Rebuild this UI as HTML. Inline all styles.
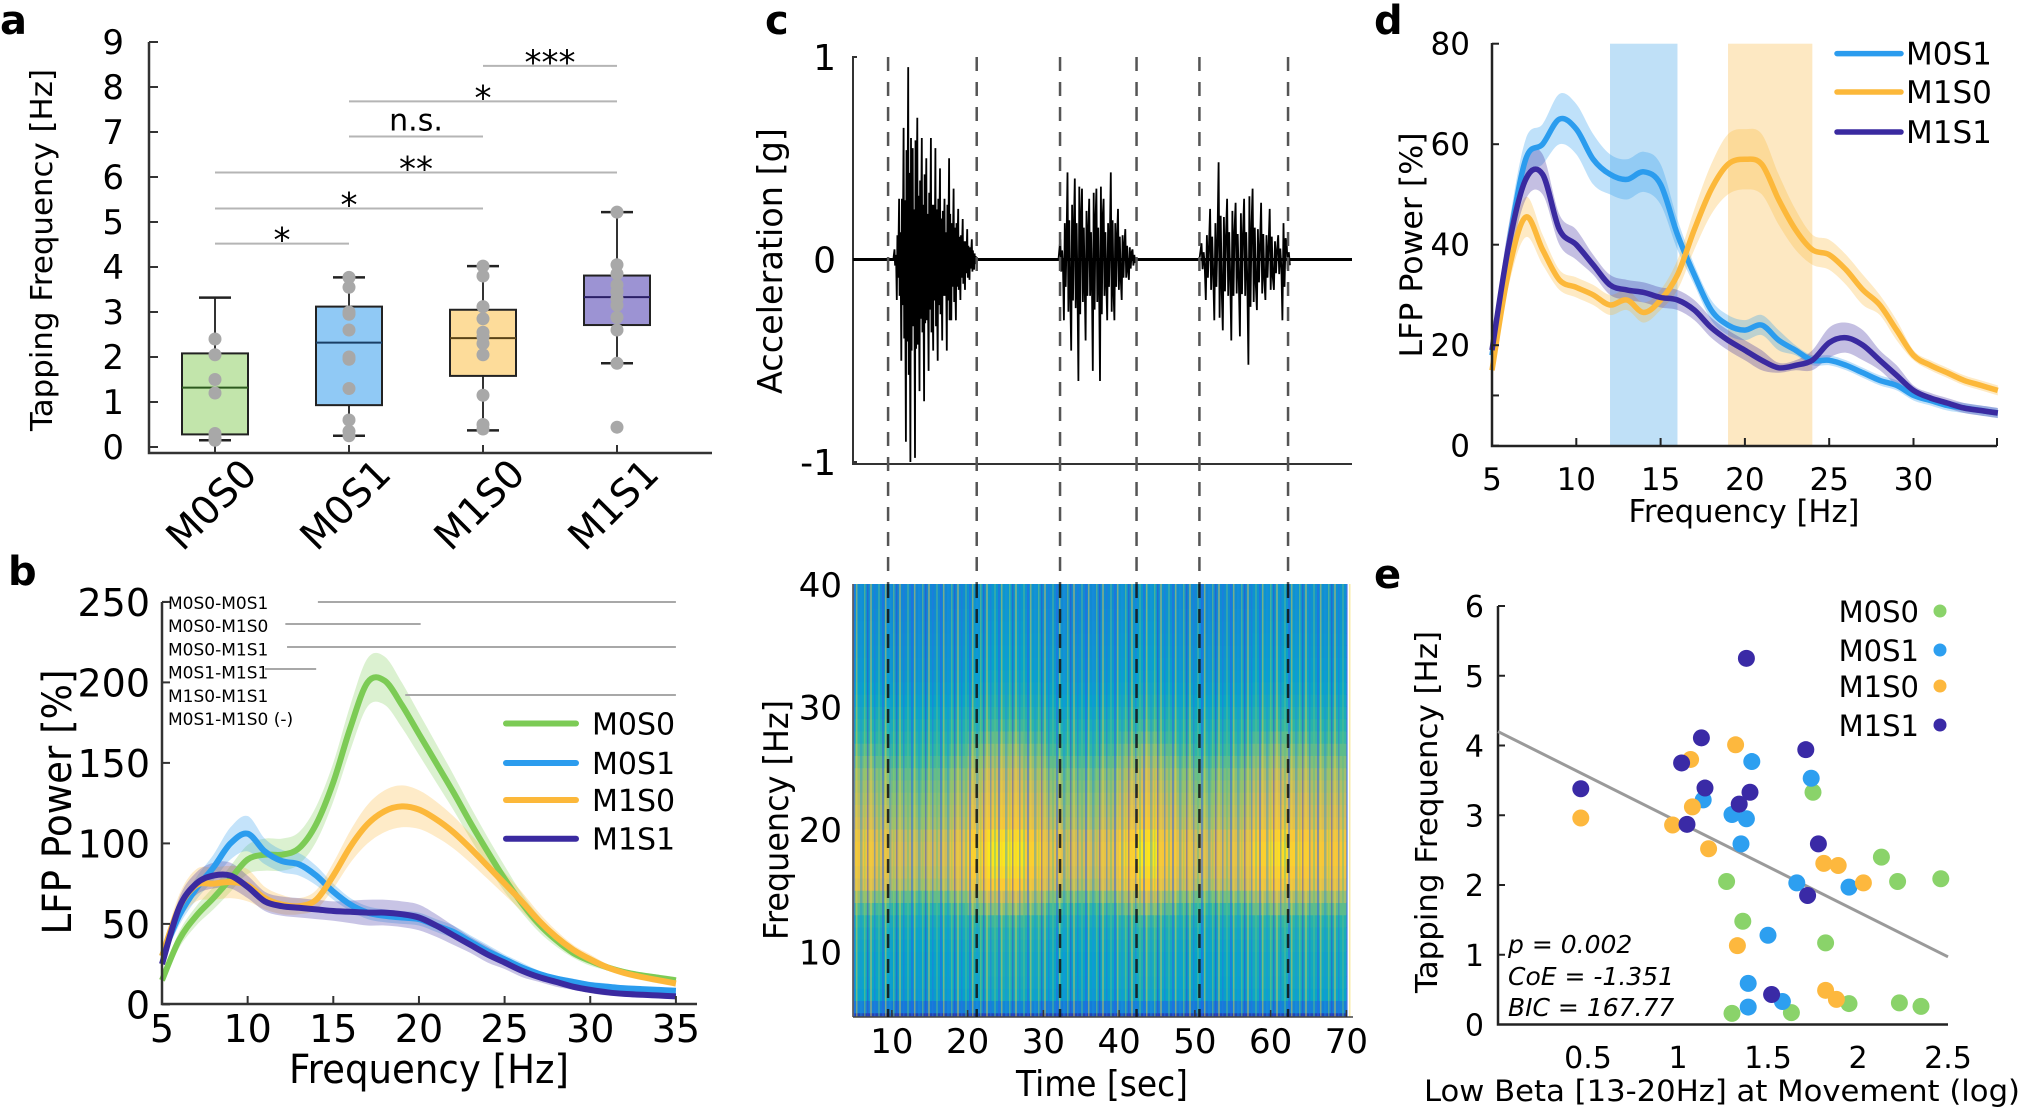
<!DOCTYPE html>
<html><head><meta charset="utf-8"><title>Figure</title>
<style>
html,body{margin:0;padding:0;background:#fff;}
svg{display:block;font-family:"DejaVu Sans","Liberation Sans",sans-serif;}
</style></head>
<body>
<svg id="fig" xmlns="http://www.w3.org/2000/svg" width="2021" height="1108" viewBox="0 0 2021 1108">
<defs>
<clipPath id="specClip"><rect x="853" y="584" width="500" height="433"/></clipPath>
<pattern id="stripes" x="853" y="0" width="29" height="10" patternUnits="userSpaceOnUse">
<rect x="0" y="0" width="2" height="10" fill="#2b5fe8" opacity="0.5"/>
<rect x="3" y="0" width="1.5" height="10" fill="#f2d33a" opacity="0.45"/>
<rect x="7" y="0" width="2.5" height="10" fill="#1c8fe0" opacity="0.4"/>
<rect x="11" y="0" width="1.5" height="10" fill="#8fd060" opacity="0.45"/>
<rect x="14" y="0" width="1.5" height="10" fill="#3a3fd0" opacity="0.45"/>
<rect x="17" y="0" width="2" height="10" fill="#f0d040" opacity="0.4"/>
<rect x="21" y="0" width="1.5" height="10" fill="#2a70e8" opacity="0.45"/>
<rect x="25" y="0" width="2" height="10" fill="#5cc08a" opacity="0.45"/>
</pattern>
</defs>
</svg>
<script>
// ---------- DATA ----------
// Panel a
const catsA = ['M0S0','M0S1','M1S0','M1S1'];
const boxLo = [0.28,0.93,1.58,2.71];
const boxHi = [2.08,3.12,3.05,3.81];
const boxMed = [1.32,2.32,2.42,3.33];
const whiskLo = [0.15,0.25,0.37,1.86];
const whiskHi = [3.32,3.77,4.02,5.22];
const ptsM0S0 = [2.4,2.05,1.5,1.2,0.3,0.2,0.15];
const ptsM0S1 = [3.77,3.55,3.0,2.95,2.6,2.0,1.95,1.3,0.6,0.35,0.25];
const ptsM1S0 = [4.02,3.8,3.12,2.85,2.55,2.45,2.3,2.05,1.15,0.5,0.4];
const ptsM1S1 = [5.22,4.05,3.85,3.6,3.45,3.3,3.15,2.88,2.6,1.86,0.44];
const sigFrom = [0,0,0,1,1,2];
const sigTo = [1,2,3,2,3,3];
const sigLevel = [4.52,5.3,6.1,6.9,7.68,8.47];
const sigText = ['*','*','**','n.s.','*','***'];
const ticksA = [0,1,2,3,4,5,6,7,8,9];

// Panel b
const freqB = [5,6,7,8,9,10,11,12,13,14,15,16,17,18,19,20,21,22,23,24,25,26,27,28,29,30,31,32,33,34,35];
const bM0S0 = [15,40,55,66,78,90,93,93,97,112,138,172,200,201,186,168,150,132,113,95,78,63,50,40,32,27,23,20,18,16.5,15];
const eM0S0 = [3,5,6,7,8,9,10,10,10,11,12,14,15,15,14,13,12,11,10,9,8,6,5,4,3,3,2,2,2,2,2];
const bM0S1 = [30,55,72,85,100,106,95,89,87,80,70,62,57,55,54,53,49,45,39,33,28,23,19,16,14,12,11,10,9.5,9,8.5];
const eM0S1 = [4,6,7,8,10,11,8,7,7,6,5,4,4,4,4,4,4,4,4,4,3,3,2,2,2,2,2,1,1,1,1];
const bM1S0 = [30,60,74,75,76,74,66,62,61,65,80,98,112,120,123,121,115,107,97,86,75,64,52,42,34,28,23,19.5,17,15,13];
const eM1S0 = [4,8,10,10,10,10,7,6,5,6,8,10,12,13,13,12,11,10,9,8,7,6,5,4,3,3,2,2,2,2,2];
const bM1S1 = [25,60,75,80,80,73,64,61,60,59,58,57.5,57,57,56,54,49,43,37,31,26,21,17,14,11,9,7.5,6.5,6,5.5,5];
const eM1S1 = [3,6,7,8,8,7,6,6,6,6,6,7,8,8,8,8,7,6,5,5,4,4,3,3,2,2,2,1,1,1,1];
const ticksBY = [0,50,100,150,200,250];
const ticksBX = [5,10,15,20,25,30,35];
const sigLabelsB = ['M0S0-M0S1','M0S0-M1S0','M0S0-M1S1','M0S1-M1S1','M1S0-M1S1','M0S1-M1S0 (-)'];
const sigStartB = [14.1,12.2,12.3,11.0,19.2];
const sigEndB = [35,20.1,35,14.0,35];

// Panel c
const accelB1 = [0.05,-0.2,0.3,-0.5,0.65,-0.9,0.95,-1.0,0.55,-0.98,0.7,-0.65,0.6,-0.7,0.5,-0.55,0.6,-0.45,0.55,-0.5,0.45,-0.4,0.3,-0.45,0.5,-0.3,0.35,-0.3,0.25,-0.2,0.2,-0.15,0.15,-0.1,0.1,-0.05];
const accelB2 = [0.1,-0.3,0.43,-0.45,0.4,-0.6,0.35,-0.4,0.3,-0.55,0.35,-0.6,0.3,-0.3,0.43,-0.3,0.25,-0.2,0.15,-0.1,0.05];
const accelB3 = [0.08,-0.2,0.25,-0.3,0.48,-0.35,0.3,-0.4,0.28,-0.38,0.3,-0.52,0.35,-0.25,0.28,-0.2,0.25,-0.15,0.12,-0.3,0.08];
const burstStart = [10.2,32.0,50.6];
const burstEnd = [21.0,42.0,62.4];
const eventTimes = [9.5,21.2,32.2,42.3,50.6,62.3];
const specFreqLevel = [0.08,0.3,0.45,0.47,0.48,0.48,0.5,0.52,0.56,0.64,0.72,0.82,0.85,0.87,0.87,0.85,0.8,0.78,0.76,0.74,0.72,0.68,0.64,0.6,0.56,0.52,0.48,0.45,0.43,0.41,0.4,0.39,0.38,0.37,0.36,0.36];
const specTimeLevel = [1.0,0.97,0.92,0.9,0.92,0.97,1.05,1.1,1.1,1.05,0.97,0.93,0.93,0.97,1.05,1.1,1.02,0.97,0.93,0.95,0.97,1.05,1.08,1.05,1.02,1.02];
const ticksCX = [10,20,30,40,50,60,70];
const ticksCF = [10,20,30,40];

// Panel d
const dM0S1 = [18,40,57,60,65,63,57,54,53,54.5,52,42,34,27,24,23,24,21,19,17,17,16,14.5,13,12,10,9,8,7.5,7,6.5];
const edM0S1 = [2,4,4,4,5,5,5,4,4,4,4,3,2,2,2,2,2,2,1,1,1,1,1,1,1,1,1,1,1,1,1];
const dM1S0 = [15,35,45.5,39,33,31.5,30,28,29,26.5,29,34,43,51,56,57,56,49,43,39,38,35,31,28,23,18,16,14.5,13,12,11];
const edM1S0 = [2,3,4,3,2,2,2,2,2,2,2,3,4,5,6,6,6,5,4,3,3,3,3,2,2,1,1,1,1,1,1];
const dM1S1 = [19,40,53,54,43,40,36,32,31,30.5,29.5,29,27,23.5,21,19,17,15.5,16,17,20.5,21.5,20,17,14,11,9.5,8.5,7.5,7,6.5];
const edM1S1 = [2,4,4,4,3,3,2,2,2,2,2,2,2,2,2,2,2,1,1,2,3,3,3,2,2,1,1,1,1,1,1];
const bandLo = [12,19];
const bandHi = [16,24];
const ticksDY = [0,20,40,60,80];
const ticksDX = [5,10,15,20,25,30];

// Panel e
const eX_M0S0 = [1.75,1.27,2.13,2.22,2.46,1.36,1.82,1.30,1.63,1.95,2.23,2.35];
const eY_M0S0 = [3.33,2.05,2.4,2.05,2.09,1.48,1.17,0.16,0.17,0.30,0.31,0.26];
const eX_M0S1 = [1.41,1.74,1.14,1.30,1.38,1.35,1.66,1.95,1.50,1.39,1.39,1.58];
const eY_M0S1 = [3.77,3.53,3.22,3.01,2.95,2.59,2.03,1.97,1.28,0.59,0.25,0.33];
const eX_M1S0 = [0.46,1.32,1.07,1.08,0.97,1.17,1.81,1.89,2.03,1.33,1.82,1.88];
const eY_M1S0 = [2.96,4.01,3.80,3.12,2.86,2.52,2.31,2.28,2.03,1.13,0.49,0.36];
const eX_M1S1 = [1.38,0.46,1.13,1.02,1.71,1.15,1.40,1.34,1.05,1.78,1.72,1.52];
const eY_M1S1 = [5.25,3.38,4.11,3.75,3.94,3.39,3.33,3.16,2.87,2.59,1.85,0.43];
const fitX = [0,2.5];
const fitY = [4.2,0.97];
const ticksEX = [0.5,1,1.5,2,2.5];
const ticksEY = [0,1,2,3,4,5,6];

// ---------- HELPERS ----------
const NS = 'http://www.w3.org/2000/svg';
const svg = document.getElementById('fig');
function mk(tag, attrs, parent, text){
  const e = document.createElementNS(NS, tag);
  for (const k in attrs) e.setAttribute(k, attrs[k]);
  if (text !== undefined) e.textContent = text;
  (parent || svg).appendChild(e);
  return e;
}
function grp(name){
  const g = mk('g', {});
  
  
  return g;
}
function spline(pts){
  let d = 'M' + pts[0][0].toFixed(1) + ' ' + pts[0][1].toFixed(1);
  for (let i = 0; i < pts.length - 1; i++){
    const p0 = pts[Math.max(0,i-1)], p1 = pts[i], p2 = pts[i+1], p3 = pts[Math.min(pts.length-1,i+2)];
    const c1x = p1[0] + (p2[0]-p0[0])/6, c1y = p1[1] + (p2[1]-p0[1])/6;
    const c2x = p2[0] - (p3[0]-p1[0])/6, c2y = p2[1] - (p3[1]-p1[1])/6;
    d += ' C' + c1x.toFixed(1) + ' ' + c1y.toFixed(1) + ' ' + c2x.toFixed(1) + ' ' + c2y.toFixed(1) + ' ' + p2[0].toFixed(1) + ' ' + p2[1].toFixed(1);
  }
  return d;
}
function bandPath(xs, m, e, X, Y){
  const up = xs.map((f,i)=>[X(f), Y(m[i]+e[i])]);
  const lo = xs.map((f,i)=>[X(f), Y(m[i]-e[i])]).reverse();
  let d = spline(up);
  d += ' L' + lo[0][0].toFixed(1) + ' ' + lo[0][1].toFixed(1);
  d += spline(lo).replace(/^M[^C]*/, '');
  return d + ' Z';
}
function label(txt, x, y, size, name, extra){
  const a = {x:x, y:y, 'font-size':size, fill:'#000'};
  if (extra) for (const k in extra) a[k] = extra[k];
  const t = mk('text', a, svg, txt);
  
  
  return t;
}
const GREEN='#7ccb55', BLUE='#2b9cee', ORANGE='#fcb83a', PURPLE='#3a2aa0';

// ---------- PANEL LETTERS ----------
[['a',0,34],['b',8,585],['c',765,34],['d',1374,34],['e',1374,588]].forEach(p=>{
  const t = label(p[0], p[1], p[2], 40, 'panel-label-'+p[0], {'font-weight':'bold'});
});

// ---------- PANEL A ----------
(function(){
  const g = grp('panel-a-boxplot');
  const ya = v => 447 - 45*v;
  const xa = i => 215 + 134*i;
  const ax = mk('path', {d:'M149 42 L149 453 L712 453', fill:'none', stroke:'#333', 'stroke-width':2.5}, g);
  
  
  ticksA.forEach(v=>{
    mk('line',{x1:149,x2:158,y1:ya(v),y2:ya(v),stroke:'#333','stroke-width':2},g);
    const t = mk('text',{x:124,y:ya(v)+12,'font-size':34,'text-anchor':'end'},g,String(v));
    
    
  });
  const yl = mk('text',{x:0,y:0,'font-size':30,'text-anchor':'middle',transform:'translate(52,250) rotate(-90)',textLength:362,lengthAdjust:'spacingAndGlyphs'},g,'Tapping Frequency [Hz]');
  
  
  const fills = ['#c2e5ab','#90c9f5','#fddc9a','#9c93d3'];
  const edges = ['#2d5a1e','#1a3f66','#5a4418','#2a1f66'];
  const pts = [ptsM0S0, ptsM0S1, ptsM1S0, ptsM1S1];
  catsA.forEach((c,i)=>{
    const x = xa(i);
    mk('line',{x1:x,x2:x,y1:453,y2:445,stroke:'#333','stroke-width':2},g);
    mk('line',{x1:x,x2:x,y1:ya(whiskHi[i]),y2:ya(whiskLo[i]),stroke:'#333','stroke-width':2},g);
    mk('line',{x1:x-16,x2:x+16,y1:ya(whiskHi[i]),y2:ya(whiskHi[i]),stroke:'#222','stroke-width':2.5},g);
    mk('line',{x1:x-16,x2:x+16,y1:ya(whiskLo[i]),y2:ya(whiskLo[i]),stroke:'#222','stroke-width':2.5},g);
    const b = mk('rect',{x:x-33,y:ya(boxHi[i]),width:66,height:ya(boxLo[i])-ya(boxHi[i]),fill:fills[i],stroke:'#222','stroke-width':2},g);
    
    
    mk('line',{x1:x-33,x2:x+33,y1:ya(boxMed[i]),y2:ya(boxMed[i]),stroke:edges[i],'stroke-width':2},g);
    pts[i].forEach(v=>{
      const d = mk('circle',{cx:x,cy:ya(v),r:6.5,fill:'#a8a8a8'},g);
      
      
    });
    const t = mk('text',{x:0,y:0,'font-size':39,'text-anchor':'end',transform:'translate('+(x+44)+',476) rotate(-45)'},g,c);
    
    
  });
  sigLevel.forEach((lv,k)=>{
    const x1 = xa(sigFrom[k]), x2 = xa(sigTo[k]), y = ya(lv);
    const l = mk('line',{x1:x1,x2:x2,y1:y,y2:y,stroke:'#b5b5b5','stroke-width':2},g);
    
    
    const isStar = sigText[k] !== 'n.s.';
    const t = mk('text',{x:(x1+x2)/2,y:isStar? y+8 : y-6,'font-size':isStar?34:30,'text-anchor':'middle'},g,sigText[k]);
    
    
  });
})();

// ---------- PANEL B ----------
(function(){
  const g = grp('panel-b-lfp-spectrum');
  const X = f => 162 + 17.13*(f-5);
  const Y = v => 1004.4 - 1.61*v;
  const series = [[bM0S0,eM0S0,GREEN,'M0S0'],[bM0S1,eM0S1,BLUE,'M0S1'],[bM1S0,eM1S0,ORANGE,'M1S0'],[bM1S1,eM1S1,PURPLE,'M1S1']];
  series.forEach(s=>{
    const b = mk('path',{d:bandPath(freqB,s[0],s[1],X,Y),fill:s[2],opacity:0.28},g);
    
    
  });
  series.forEach(s=>{
    const l = mk('path',{d:spline(freqB.map((f,i)=>[X(f),Y(s[0][i])])),fill:'none',stroke:s[2],'stroke-width':6,'stroke-linejoin':'round'},g);
    
    
  });
  const ax = mk('path',{d:'M162 602 L162 1004 L697 1004',fill:'none',stroke:'#333','stroke-width':2.5},g);
  
  
  mk('line',{x1:162,x2:168,y1:602,y2:602,stroke:'#333','stroke-width':2},g);
  ticksBY.forEach(v=>{
    mk('line',{x1:162,x2:170,y1:Y(v),y2:Y(v),stroke:'#333','stroke-width':2},g);
    const t = mk('text',{x:150,y:Y(v)+14,'font-size':38,'text-anchor':'end'},g,String(v));
    
    
  });
  ticksBX.forEach(v=>{
    mk('line',{x1:X(v),x2:X(v),y1:1004,y2:996,stroke:'#333','stroke-width':2},g);
    const t = mk('text',{x:X(v),y:1042,'font-size':38,'text-anchor':'middle'},g,String(v));
    
    
  });
  const xl = mk('text',{x:429,y:1083,'font-size':40,'text-anchor':'middle',textLength:280,lengthAdjust:'spacingAndGlyphs'},g,'Frequency [Hz]');
  
  
  const yl = mk('text',{x:0,y:0,'font-size':40,'text-anchor':'middle',transform:'translate(71,802) rotate(-90)',textLength:265,lengthAdjust:'spacingAndGlyphs'},g,'LFP Power [%]');
  
  
  sigLabelsB.forEach((s,i)=>{
    const t = mk('text',{x:168,y:609+23.2*i,'font-size':17},g,s);
    
    
  });
  const sigY = [602,624,647,669,695];
  sigStartB.forEach((f,i)=>{
    const l = mk('line',{x1:X(f),x2:X(sigEndB[i]),y1:sigY[i],y2:sigY[i],stroke:'#a8a8a8','stroke-width':2},g);
    
    
  });
  const ly = [723.5,763,800,838.7];
  series.forEach((s,i)=>{
    const lg = mk('g',{},g);
    
    
    mk('line',{x1:506,x2:576,y1:ly[i],y2:ly[i],stroke:s[2],'stroke-width':6,'stroke-linecap':'round'},lg);
    mk('text',{x:592,y:ly[i]+11,'font-size':30},lg,s[3]);
  });
})();

// ---------- PANEL C ----------
(function(){
  const g = grp('panel-c-acceleration-spectrogram');
  const X = t => 854 + 7.575*(t-5);
  const YA = v => 259.5 - 202.5*v;
  const sg = mk('g',{'clip-path':'url(#specClip)'},g);
  
  
  const YF = f => 584 + (40-f)*12.25;
  const stops = [[0,[53,42,135]],[0.15,[15,92,221]],[0.3,[20,129,214]],[0.45,[6,164,202]],[0.6,[46,183,164]],[0.7,[135,191,119]],[0.8,[209,187,89]],[0.9,[254,200,50]],[1,[249,251,14]]];
  function parula(v){
    v = Math.max(0,Math.min(1,v));
    for (let i=0;i<stops.length-1;i++){
      if (v<=stops[i+1][0]){
        const a=stops[i],b=stops[i+1],t=(v-a[0])/(b[0]-a[0]);
        const c=a[1].map((x,k)=>Math.round(x+(b[1][k]-x)*t));
        return 'rgb('+c.join(',')+')';
      }
    }
    return 'rgb(249,251,14)';
  }
  specFreqLevel.forEach((fl,r)=>{
    const f0 = 4 + r;
    specTimeLevel.forEach((tl,c)=>{
      const t0 = 5 + 2.5*c;
      const cell = mk('rect',{x:X(t0),y:YF(f0+1),width:7.575*2.5+0.5,height:12.25+0.5,fill:parula(fl*tl)},sg);
      
      
    });
  });
  mk('rect',{x:853,y:584,width:500,height:433,fill:'url(#stripes)'},sg);
  mk('line',{x1:853,x2:853,y1:584,y2:1017,stroke:'#444','stroke-width':1.5},g);
  mk('line',{x1:853,x2:1353,y1:1017,y2:1017,stroke:'#444','stroke-width':1.5},g);
  ticksCF.forEach(v=>{
    const t = mk('text',{x:842,y:YF(v)+13,'font-size':34,'text-anchor':'end'},g,String(v));
    
    
  });
  ticksCX.forEach(v=>{
    mk('line',{x1:X(v),x2:X(v),y1:1017,y2:1010,stroke:'#333','stroke-width':1.5},g);
    const t = mk('text',{x:X(v),y:1053,'font-size':34,'text-anchor':'middle'},g,String(v));
    
    
  });
  const xl = mk('text',{x:1102,y:1096,'font-size':36,'text-anchor':'middle',textLength:172,lengthAdjust:'spacingAndGlyphs'},g,'Time [sec]');
  
  
  const fl = mk('text',{x:0,y:0,'font-size':34,'text-anchor':'middle',transform:'translate(788,820) rotate(-90)',textLength:240,lengthAdjust:'spacingAndGlyphs'},g,'Frequency [Hz]');
  
  
  const ax = mk('path',{d:'M857 57 L853 57 L853 464 L1352 464 M853 462 L857 462',fill:'none',stroke:'#333','stroke-width':2},g);
  
  
  const base = mk('line',{x1:853,x2:1352,y1:YA(0),y2:YA(0),stroke:'#000','stroke-width':3},g);
  
  
  [accelB1,accelB2,accelB3].forEach((arr,k)=>{
    const s = burstStart[k], e = burstEnd[k];
    const n = arr.length;
    let d = 'M' + X(s).toFixed(1) + ' ' + YA(0).toFixed(1);
    arr.forEach((v,i)=>{
      const t = s + (e-s)*(i+0.5)/n;
      const w = 7.575*(e-s)/n;
      d += ' L' + X(t).toFixed(1) + ' ' + YA(v).toFixed(1);
      d += ' L' + (X(t)+w*0.25).toFixed(1) + ' ' + YA(-v*0.6).toFixed(1);
      d += ' L' + (X(t)+w*0.5).toFixed(1) + ' ' + YA(v*0.45).toFixed(1);
      d += ' L' + (X(t)+w*0.75).toFixed(1) + ' ' + YA(-v*0.35).toFixed(1);
    });
    d += ' L' + X(e).toFixed(1) + ' ' + YA(0).toFixed(1);
    const p = mk('path',{d:d,fill:'none',stroke:'#000','stroke-width':1.8,'stroke-linejoin':'miter'},g);
    
    
  });
  [['1',57],['0',259.5],['-1',462]].forEach(a=>{
    const t = mk('text',{x:836,y:a[1]+13,'font-size':36,'text-anchor':'end'},g,a[0]);
    
    
  });
  const al = mk('text',{x:0,y:0,'font-size':34,'text-anchor':'middle',transform:'translate(782,261) rotate(-90)',textLength:266,lengthAdjust:'spacingAndGlyphs'},g,'Acceleration [g]');
  
  
  eventTimes.forEach(t=>{
    const x = X(t);
    const l1 = mk('line',{x1:x,x2:x,y1:57,y2:584,stroke:'#555','stroke-width':2.5,'stroke-dasharray':'14 11'},g);
    
    
    mk('line',{x1:x,x2:x,y1:584,y2:1017,stroke:'#111','stroke-width':2.5,'stroke-dasharray':'14 11',opacity:0.85},g);
  });
})();

// ---------- PANEL D ----------
(function(){
  const g = grp('panel-d-lfp-spectrum');
  const X = f => 1492 + 16.86*(f-5);
  const Y = v => 445.7 - 5.025*v;
  const bandFill = ['#bfe0f7','#fde8c2'];
  bandLo.forEach((lo,i)=>{
    const r = mk('rect',{x:X(lo),y:Y(80),width:X(bandHi[i])-X(lo),height:Y(0)-Y(80),fill:bandFill[i]},g);
    
    
  });
  const series = [[dM0S1,edM0S1,BLUE,'M0S1'],[dM1S0,edM1S0,ORANGE,'M1S0'],[dM1S1,edM1S1,PURPLE,'M1S1']];
  series.forEach(s=>{
    const b = mk('path',{d:bandPath(freqB,s[0],s[1],X,Y),fill:s[2],opacity:0.3},g);
    
    
  });
  series.forEach(s=>{
    const l = mk('path',{d:spline(freqB.map((f,i)=>[X(f),Y(s[0][i])])),fill:'none',stroke:s[2],'stroke-width':5.5},g);
    
    
  });
  const ax = mk('path',{d:'M1492 43 L1492 446 L1997 446',fill:'none',stroke:'#222','stroke-width':2.5},g);
  
  
  mk('line',{x1:1492,x2:1499,y1:Y(10),y2:Y(10),stroke:'#222','stroke-width':2},g);
  mk('line',{x1:1997,x2:1997,y1:446,y2:438,stroke:'#222','stroke-width':2},g);
  ticksDY.forEach(v=>{
    mk('line',{x1:1492,x2:1499,y1:Y(v),y2:Y(v),stroke:'#222','stroke-width':2},g);
    const t = mk('text',{x:1470,y:Y(v)+11,'font-size':31,'text-anchor':'end'},g,String(v));
    
    
  });
  ticksDX.forEach(v=>{
    mk('line',{x1:X(v),x2:X(v),y1:446,y2:438,stroke:'#222','stroke-width':2},g);
    const t = mk('text',{x:X(v),y:490,'font-size':31,'text-anchor':'middle'},g,String(v));
    
    
  });
  const xl = mk('text',{x:1744,y:522,'font-size':31,'text-anchor':'middle',textLength:231,lengthAdjust:'spacingAndGlyphs'},g,'Frequency [Hz]');
  
  
  const yl = mk('text',{x:0,y:0,'font-size':31,'text-anchor':'middle',transform:'translate(1422,245) rotate(-90)',textLength:225,lengthAdjust:'spacingAndGlyphs'},g,'LFP Power [%]');
  
  
  const ly = [53.6,92,132];
  series.forEach((s,i)=>{
    const lg = mk('g',{},g);
    
    
    mk('line',{x1:1837,x2:1901,y1:ly[i],y2:ly[i],stroke:s[2],'stroke-width':5.5,'stroke-linecap':'round'},lg);
    mk('text',{x:1906,y:ly[i]+11,'font-size':31},lg,s[3]);
  });
})();

// ---------- PANEL E ----------
(function(){
  const g = grp('panel-e-scatter');
  const X = v => 1498 + 180*v;
  const Y = v => 1024.5 - 69.75*v;
  const ax = mk('path',{d:'M1498 606 L1498 1024.5 L1948 1024.5',fill:'none',stroke:'#222','stroke-width':2.5},g);
  
  
  ticksEY.forEach(v=>{
    mk('line',{x1:1498,x2:1505,y1:Y(v),y2:Y(v),stroke:'#222','stroke-width':2},g);
    const t = mk('text',{x:1484,y:Y(v)+11,'font-size':30,'text-anchor':'end'},g,String(v));
    
    
  });
  ticksEX.forEach(v=>{
    const t = mk('text',{x:X(v),y:1068,'font-size':30,'text-anchor':'middle'},g,String(v));
    
    
  });
  const xl = mk('text',{x:1722,y:1101,'font-size':29,'text-anchor':'middle',textLength:596,lengthAdjust:'spacingAndGlyphs'},g,'Low Beta [13-20Hz] at Movement (log)');
  
  
  const yl = mk('text',{x:0,y:0,'font-size':30,'text-anchor':'middle',transform:'translate(1437,812) rotate(-90)',textLength:362,lengthAdjust:'spacingAndGlyphs'},g,'Tapping Frequency [Hz]');
  
  
  const fit = mk('line',{x1:X(fitX[0]),y1:Y(fitY[0]),x2:X(fitX[1]),y2:Y(fitY[1]),stroke:'#9a9a9a','stroke-width':3},g);
  
  
  const groups = [[eX_M0S0,eY_M0S0,'#8ad36a','M0S0'],[eX_M0S1,eY_M0S1,'#2d9ff0','M0S1'],[eX_M1S0,eY_M1S0,'#fdb83e','M1S0'],[eX_M1S1,eY_M1S1,'#3a2aa6','M1S1']];
  groups.forEach(gr=>{
    gr[0].forEach((xv,i)=>{
      const c = mk('circle',{cx:X(xv),cy:Y(gr[1][i]),r:8.5,fill:gr[2]},g);
      
      
    });
  });
  const ly = [611,650,686,725];
  groups.forEach((gr,i)=>{
    const lg = mk('g',{},g);
    
    
    mk('text',{x:1919,y:ly[i]+11,'font-size':29,'text-anchor':'end'},lg,gr[3]);
    mk('circle',{cx:1940,cy:ly[i],r:6.5,fill:gr[2]},lg);
  });
  [['p = 0.002',944],['CoE = -1.351',976],['BIC = 167.77',1007]].forEach(s=>{
    const t = mk('text',{x:1508,y:s[1]+9,'font-size':25,'font-style':'italic'},g,s[0]);
    
    
  });
})();
</script>
</body></html>
